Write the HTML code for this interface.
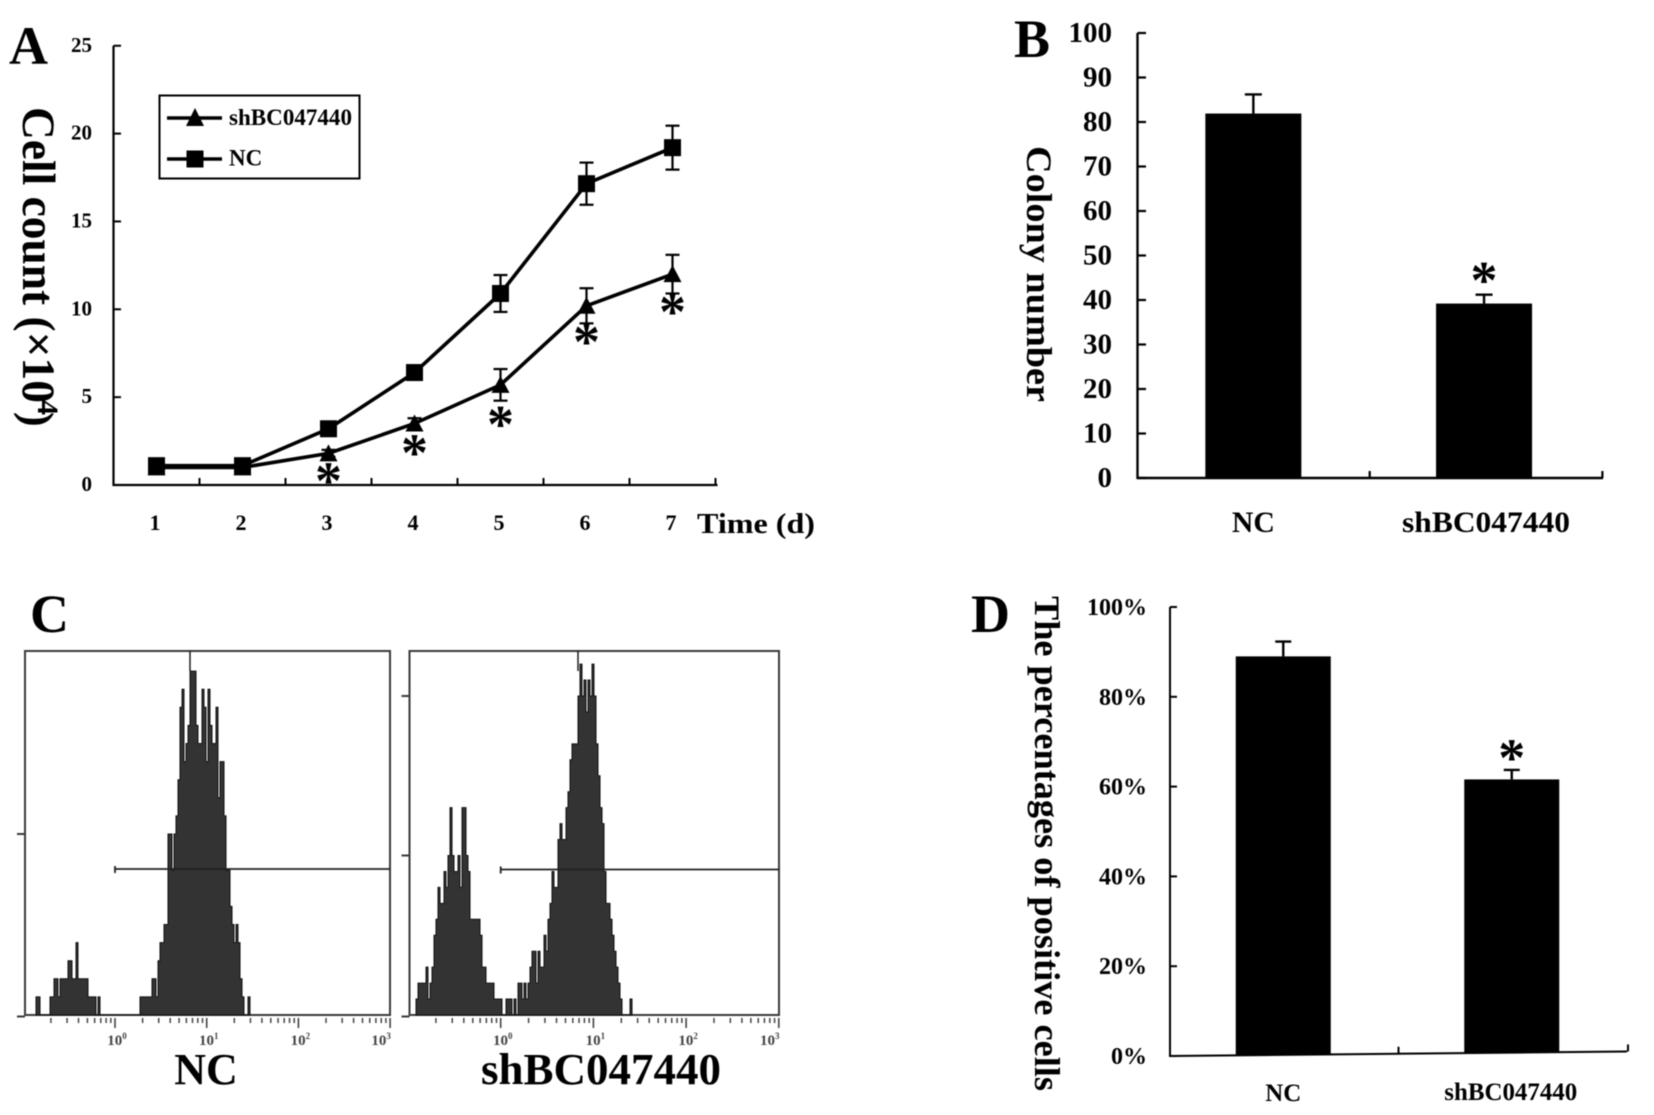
<!DOCTYPE html>
<html lang="en">
<head>
<meta charset="utf-8">
<title>Cell proliferation, colony and flow cytometry figure</title>
<style>
html,body{margin:0;padding:0;background:#fff;}
svg{display:block;filter:blur(0.55px);}
text{font-family:"Liberation Serif",serif;font-weight:bold;fill:#000;}
</style>
</head>
<body>
<svg id="fig" xmlns="http://www.w3.org/2000/svg" width="1654" height="1115" viewBox="0 0 1654 1115">
  <rect x="0" y="0" width="1654" height="1115" fill="#fff"/>

  <text x="9" y="64" font-size="54">A</text>
  <text x="1014" y="57" font-size="54">B</text>
  <text x="30" y="632" font-size="54">C</text>
  <text x="971" y="632" font-size="54">D</text>

  <g id="panelA">
    <text transform="translate(23,107) rotate(90)" font-size="47" textLength="296" lengthAdjust="spacingAndGlyphs">Cell count (×10</text>
    <text transform="translate(38,400) rotate(90)" font-size="30">4</text>
    <text transform="translate(23,412) rotate(90)" font-size="44">)</text>
    <text x="697" y="533" font-size="28" textLength="118" lengthAdjust="spacingAndGlyphs">Time (d)</text>
    <g>
      <rect x="159.5" y="95.5" width="200" height="83" fill="#fff" stroke="#000" stroke-width="2"/>
      <line x1="167" y1="118" x2="222" y2="118" stroke="#000" stroke-width="3.5"/>
      <polygon points="195,108 204,126 186,126" fill="#000"/>
      <text x="229" y="125" font-size="23" textLength="123" lengthAdjust="spacingAndGlyphs">shBC047440</text>
      <line x1="167" y1="159" x2="222" y2="159" stroke="#000" stroke-width="3.5"/>
      <rect x="186.5" y="150.5" width="17" height="17" fill="#000"/>
      <text x="229" y="165.5" font-size="23">NC</text>
    </g>
  </g>

  <g id="panelB">
    <text transform="translate(1027,146) rotate(90)" font-size="36" textLength="256" lengthAdjust="spacingAndGlyphs">Colony number</text>
  </g>

  <g id="panelC">
    <text x="206" y="1084" font-size="44" text-anchor="middle">NC</text>
    <text x="601" y="1084" font-size="44" text-anchor="middle" textLength="240" lengthAdjust="spacingAndGlyphs">shBC047440</text>
  </g>

  <g id="panelD">
    <text transform="translate(1035,596) rotate(90)" font-size="36" textLength="495" lengthAdjust="spacingAndGlyphs">The percentages of positive cells</text>
  </g>
</svg>

<script>
// ---------- Panel A data ----------
const dayLabels = ['1', '2', '3', '4', '5', '6', '7'];
const cellTickLabels = [0, 5, 10, 15, 20, 25];
const ncCells = [1.1, 1.1, 3.2, 6.4, 10.9, 17.15, 19.2];
const ncCellsErr = [0.1, 0.1, 0.2, 0.3, 1.05, 1.2, 1.25];
const shCells = [1.0, 1.0, 1.8, 3.5, 5.7, 10.2, 12.0];
const shCellsErr = [0.1, 0.1, 0.2, 0.3, 0.9, 1.0, 1.1];
const starDays = [2, 3, 4, 5, 6];
const starLevels = [1.6, 3.2, 4.8, 9.5, 11.2];

// ---------- Panel B data ----------
const colonyCategories = ['NC', 'shBC047440'];
const colonyValues = [81.9, 39.2];
const colonyErrors = [4.3, 2.0];
const colonyTicks = [0, 10, 20, 30, 40, 50, 60, 70, 80, 90, 100];

// ---------- Panel D data ----------
const positiveCategories = ['NC', 'shBC047440'];
const positiveValues = [89, 61.6];
const positiveErrors = [3.3, 2.1];
const positiveTicks = [0, 20, 40, 60, 80, 100];

// ---------- Panel C histogram counts (per channel) ----------
const ncCounts = [1,1,0,0,0,0,0,1,1,2,2,1,2,2,2,2,3,3,2,2,4,2,2,2,2,2,1,1,1,1,0,1,
  0,0,0,0,0,0,0,0,0,0,0,0,0,0,0,0,0,0,0,0,
  1,1,1,1,1,1,2,2,1,3,4,4,5,5,
  10,10,8,10,11,13,17,18,14,15,16,19,19,19,16,15,15,18,17,14,18,16,15,15,17,12,14,14,11,8,8,6,5,4,5,4,2,1,0,0,1];
const shCounts = [1,2,2,2,2,3,1,2,3,5,6,8,7,7,9,8,10,13,10,9,9,10,8,13,13,10,9,6,6,6,6,6,5,3,3,2,2,2,2,1,1,1,1,0,0,
  1,1,1,0,1,0,2,2,1,2,1,2,3,4,4,2,4,3,3,5,4,6,7,9,8,8,11,12,11,11,13,14,16,17,17,17,20,22,20,21,19,21,20,22,20,17,15,13,12,9,7,7,6,5,4,3,2,1,0,0,0,0,1];
const decadeExponents = [0, 1, 2, 3];
const minorMultipliers = [2, 3, 4, 5, 6, 7, 8, 9];

const NS = 'http://www.w3.org/2000/svg';
function mk(tag, attrs, parent, txt) {
  const el = document.createElementNS(NS, tag);
  for (const k in attrs) el.setAttribute(k, attrs[k]);
  if (txt !== undefined) el.textContent = txt;
  parent.appendChild(el);
  return el;
}
const panelA = document.getElementById('panelA');
const panelB = document.getElementById('panelB');
const panelC = document.getElementById('panelC');
const panelD = document.getElementById('panelD');

// ---------- Panel A axes ----------
const xA = i => 113.5 + 86 * (i + 0.5);
const yA = v => 485 - v * 17.57;
let el;
el = mk('line', {x1: 113.5, y1: yA(25), x2: 113.5, y2: yA(0) + 1, stroke: '#000', 'stroke-width': 2.2}, panelA);


el = mk('line', {x1: 113, y1: yA(0), x2: xA(6) + 45, y2: yA(0), stroke: '#000', 'stroke-width': 2.2}, panelA);


cellTickLabels.forEach(v => {
  const t = mk('line', {x1: 113.5, y1: yA(v), x2: 121, y2: yA(v), stroke: '#000', 'stroke-width': 2}, panelA);
  
  
  const l = mk('text', {x: 92, y: yA(v) + 6, 'font-size': 21, 'text-anchor': 'end'}, panelA, v);
  
  
});
dayLabels.forEach((d, i) => {
  const t = mk('line', {x1: xA(i) + 43, y1: yA(0), x2: xA(i) + 43, y2: yA(0) - 7, stroke: '#000', 'stroke-width': 2}, panelA);
  
  
  const l = mk('text', {x: xA(i) - 1.5, y: 530, 'font-size': 22, 'text-anchor': 'middle'}, panelA, d);
  
  
});

// ---------- Panel A series ----------
function errorBars(vals, errs, name) {
  vals.forEach((v, i) => {
    const x = xA(i), top = yA(v + errs[i]), bot = yA(v - errs[i]);
    const s = mk('line', {x1: x, y1: top, x2: x, y2: bot, stroke: '#000', 'stroke-width': 2.2}, panelA);
    
    
    const c1 = mk('line', {x1: x - 7, y1: top, x2: x + 7, y2: top, stroke: '#000', 'stroke-width': 2.2}, panelA);
    
    
    const c2 = mk('line', {x1: x - 7, y1: bot, x2: x + 7, y2: bot, stroke: '#000', 'stroke-width': 2.2}, panelA);
    
    
  });
}
errorBars(shCells, shCellsErr, 'shbc047440');
errorBars(ncCells, ncCellsErr, 'nc');
el = mk('polyline', {points: shCells.map((v, i) => xA(i) + ',' + yA(v)).join(' '), fill: 'none', stroke: '#000', 'stroke-width': 3.6}, panelA);


el = mk('polyline', {points: ncCells.map((v, i) => xA(i) + ',' + yA(v)).join(' '), fill: 'none', stroke: '#000', 'stroke-width': 3.6}, panelA);


shCells.forEach((v, i) => {
  const x = xA(i), y = yA(v);
  const p = mk('polygon', {points: (x) + ',' + (y - 9) + ' ' + (x + 9) + ',' + (y + 8) + ' ' + (x - 9) + ',' + (y + 8), fill: '#000'}, panelA);
  
  
});
ncCells.forEach((v, i) => {
  const p = mk('rect', {x: xA(i) - 8.5, y: yA(v) - 8.5, width: 17, height: 17, fill: '#000'}, panelA);
  
  
});
starDays.forEach((i, k) => {
  const s = mk('text', {x: xA(i), y: yA(starLevels[k]) + 42, 'font-size': 54, 'text-anchor': 'middle'}, panelA, '*');
  
  
});

// ---------- Panel B ----------
const yB = v => 478 - v * 4.45;
const xB = i => 1137 + 232.7 * (i + 0.5);
el = mk('line', {x1: 1137.5, y1: yB(100), x2: 1137.5, y2: yB(0) + 1, stroke: '#000', 'stroke-width': 2.4}, panelB);


el = mk('line', {x1: 1137, y1: yB(0), x2: 1603, y2: yB(0), stroke: '#000', 'stroke-width': 2.4}, panelB);


colonyTicks.forEach(v => {
  const t = mk('line', {x1: 1137.5, y1: yB(v), x2: 1146, y2: yB(v), stroke: '#000', 'stroke-width': 2.2}, panelB);
  
  
  const l = mk('text', {x: 1112, y: yB(v) + 9, 'font-size': 29, 'text-anchor': 'end'}, panelB, v);
  
  
});
colonyCategories.forEach((c, i) => {
  const t = mk('line', {x1: 1137 + 232.7 * (i + 1), y1: yB(0), x2: 1137 + 232.7 * (i + 1), y2: yB(0) - 7, stroke: '#000', 'stroke-width': 2.2}, panelB);
  
  
  const x = xB(i) - i * 2;
  const err = mk('line', {x1: x, y1: yB(colonyValues[i]), x2: x, y2: yB(colonyValues[i] + colonyErrors[i]), stroke: '#000', 'stroke-width': 2.4}, panelB);
  
  
  const cap = mk('line', {x1: x - 8.5, y1: yB(colonyValues[i] + colonyErrors[i]), x2: x + 8.5, y2: yB(colonyValues[i] + colonyErrors[i]), stroke: '#000', 'stroke-width': 2.4}, panelB);
  
  
  const b = mk('rect', {x: x - 48, y: yB(colonyValues[i]), width: 96, height: yB(0) - yB(colonyValues[i]), fill: '#000'}, panelB);
  
  
  const l = mk('text', {x: x + i * 2, y: 532, 'font-size': 30, 'text-anchor': 'middle', textLength: i ? 168 : 43, lengthAdjust: 'spacingAndGlyphs'}, panelB, c);
  
  
});
el = mk('text', {x: xB(1) - 2, y: yB(colonyValues[1] + colonyErrors[1]) + 4, 'font-size': 54, 'text-anchor': 'middle'}, panelB, '*');



// ---------- Panel C ----------
function histogram(cfg, counts) {
  const binX = c => cfg.startX + c * 2;
  const yH = n => cfg.base - n * cfg.unit;
  const xLog = e => cfg.x0 + e * cfg.decade;
  let f = mk('rect', {x: cfg.left, y: cfg.top, width: cfg.right - cfg.left, height: cfg.base - cfg.top, fill: '#fff', stroke: '#3a3a3a', 'stroke-width': 2}, panelC);
  
  
  let d = 'M' + binX(0) + ' ' + cfg.base;
  counts.forEach((n, c) => {
    d += ' L' + binX(c) + ' ' + yH(n) + ' L' + binX(c + 1) + ' ' + yH(n);
  });
  d += ' L' + binX(counts.length) + ' ' + cfg.base + ' Z';
  f = mk('path', {d: d, fill: '#333', stroke: '#111', 'stroke-width': 1}, panelC);
  
  
  f = mk('line', {x1: cfg.peakX, y1: cfg.top, x2: cfg.peakX, y2: cfg.top + 20, stroke: '#111', 'stroke-width': 1.4}, panelC);
  
  
  f = mk('line', {x1: xLog(0), y1: cfg.gateY, x2: cfg.right, y2: cfg.gateY, stroke: '#222', 'stroke-width': 1.8}, panelC);
  
  
  f = mk('line', {x1: xLog(0), y1: cfg.gateY - 3, x2: xLog(0), y2: cfg.gateY + 4, stroke: '#222', 'stroke-width': 1.8}, panelC);
  
  
  cfg.yTicks.forEach(n => {
    const t = mk('line', {x1: cfg.left - 8, y1: yH(n), x2: cfg.left, y2: yH(n), stroke: '#3a3a3a', 'stroke-width': 2}, panelC);
    
    
  });
  const t0 = mk('line', {x1: cfg.left - 8, y1: cfg.base + 1.5, x2: cfg.left, y2: cfg.base + 1.5, stroke: '#3a3a3a', 'stroke-width': 2}, panelC);
  
  
  decadeExponents.forEach(e => {
    const t = mk('line', {x1: xLog(e), y1: cfg.base + 3, x2: xLog(e), y2: cfg.base + 13, stroke: '#444', 'stroke-width': 1.6}, panelC);
    
    
    minorMultipliers.forEach(m => {
      const mt = mk('line', {x1: xLog(e - 1 + Math.log10(m)), y1: cfg.base + 3, x2: xLog(e - 1 + Math.log10(m)), y2: cfg.base + 8, stroke: '#444', 'stroke-width': 1.5}, panelC);
      
      
    });
    const lx = e === 3 ? xLog(e) - 9 : xLog(e) + 2;
    const l = mk('text', {x: lx, y: cfg.base + 30, 'font-size': 15, 'text-anchor': 'middle', style: 'fill:#444'}, panelC);
    
    
    const b = mk('tspan', {}, l, '10');
    
    
    const s = mk('tspan', {dy: -6, 'font-size': 9}, l, e);
    
    
  });
}
histogram({name: 'nc', left: 25, right: 390, top: 651, base: 1015, startX: 36, unit: 18.1, x0: 115, decade: 91.7, peakX: 190, gateY: 869, yTicks: [10]}, ncCounts);
histogram({name: 'shbc047440', left: 409.5, right: 779, top: 651, base: 1015, startX: 416, unit: 15.95, x0: 500.7, decade: 92.7, peakX: 578, gateY: 869.5, yTicks: [10, 20]}, shCounts);

// ---------- Panel D ----------
const yD = v => 1056 - v * 4.49;
const xD = i => 1170 + 228.5 * (i + 0.5);
const xAxisD = x => 1056 - (x - 1170) * 0.0099;
el = mk('line', {x1: 1170, y1: yD(100), x2: 1170, y2: yD(0) + 1, stroke: '#000', 'stroke-width': 2}, panelD);


el = mk('line', {x1: 1170, y1: xAxisD(1170), x2: 1627, y2: xAxisD(1627), stroke: '#000', 'stroke-width': 2}, panelD);


positiveTicks.forEach(v => {
  const t = mk('line', {x1: 1170, y1: yD(v), x2: 1177, y2: yD(v), stroke: '#000', 'stroke-width': 2}, panelD);
  
  
  const l = mk('text', {x: 1147, y: yD(v) + 8, 'font-size': 24, 'text-anchor': 'end'}, panelD, v + '%');
  
  
});
positiveCategories.forEach((c, i) => {
  const tx = 1170 + 228.5 * (i + 1) + i;
  const t = mk('line', {x1: tx, y1: xAxisD(tx), x2: tx, y2: xAxisD(tx) - 7, stroke: '#000', 'stroke-width': 2}, panelD);
  
  
  const x = xD(i) - 1;
  const err = mk('line', {x1: x, y1: yD(positiveValues[i]), x2: x, y2: yD(positiveValues[i] + positiveErrors[i]), stroke: '#000', 'stroke-width': 2.4}, panelD);
  
  
  const cap = mk('line', {x1: x - 8, y1: yD(positiveValues[i] + positiveErrors[i]), x2: x + 8, y2: yD(positiveValues[i] + positiveErrors[i]), stroke: '#000', 'stroke-width': 2.4}, panelD);
  
  
  const b = mk('rect', {x: x - 47.5, y: yD(positiveValues[i]), width: 95, height: xAxisD(x) - yD(positiveValues[i]), fill: '#000'}, panelD);
  
  
  const l = mk('text', {x: x - (i ? 1 : 0), y: i ? 1100 : 1101, 'font-size': 25, 'text-anchor': 'middle', textLength: i ? 133 : 36, lengthAdjust: 'spacingAndGlyphs'}, panelD, c);
  
  
});
el = mk('text', {x: xD(1) - 1, y: yD(positiveValues[1] + positiveErrors[1]) + 6, 'font-size': 54, 'text-anchor': 'middle'}, panelD, '*');


</script>
</body>
</html>
